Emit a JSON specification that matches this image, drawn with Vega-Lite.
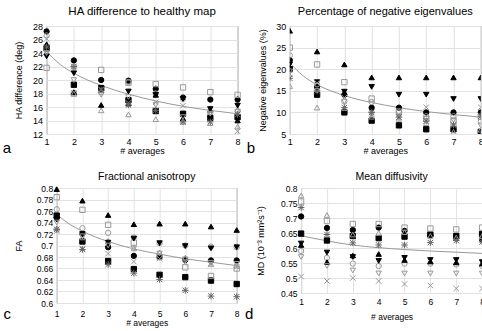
{
 "$schema": "https://vega.github.io/schema/vega-lite/v6.json",
 "padding": {"left": 2, "top": 5, "right": 0, "bottom": 0},
 "background": "white",
 "config": {
  "font": "Liberation Sans",
  "view": {"stroke": "#888", "strokeWidth": 1},
  "axis": {"grid": true, "gridColor": "#e2e2e2", "domain": false, "ticks": false, "labelFontSize": 9, "titleFontSize": 9, "titleFontWeight": "normal", "labelColor": "#000", "titleColor": "#000", "labelPadding": 4, "titlePadding": 5, "labelFlush": false, "labelOverlap": false, "tickCount": 20},
  "title": {"fontWeight": "normal", "color": "#000"}
 },
 "datasets": {
  "a": [
   {"s":"fc","x":1,"v":27.2},{"s":"fc","x":2,"v":22.9},{"s":"fc","x":3,"v":20.0},{"s":"fc","x":4,"v":19.9},{"s":"fc","x":5,"v":18.7},{"s":"fc","x":6,"v":17.4},{"s":"fc","x":7,"v":17.1},{"s":"fc","x":8,"v":17.1},
   {"s":"oc","x":1,"v":26.6},{"s":"oc","x":2,"v":22.0},{"s":"oc","x":3,"v":18.2},{"s":"oc","x":4,"v":19.7},{"s":"oc","x":5,"v":18.0},{"s":"oc","x":6,"v":17.2},{"s":"oc","x":7,"v":15.1},{"s":"oc","x":8,"v":15.4},
   {"s":"fs","x":1,"v":24.7},{"s":"fs","x":2,"v":19.3},{"s":"fs","x":3,"v":18.8},{"s":"fs","x":4,"v":17.0},{"s":"fs","x":5,"v":15.4},{"s":"fs","x":6,"v":15.0},{"s":"fs","x":7,"v":14.4},{"s":"fs","x":8,"v":14.5},
   {"s":"os","x":1,"v":21.8},{"s":"os","x":2,"v":18.0},{"s":"os","x":3,"v":21.5},{"s":"os","x":4,"v":19.6},{"s":"os","x":5,"v":19.4},{"s":"os","x":6,"v":18.9},{"s":"os","x":7,"v":18.2},{"s":"os","x":8,"v":17.8},
   {"s":"fu","x":1,"v":25.3},{"s":"fu","x":2,"v":18.2},{"s":"fu","x":3,"v":16.3},{"s":"fu","x":4,"v":16.5},{"s":"fu","x":5,"v":17.8},{"s":"fu","x":6,"v":14.3},{"s":"fu","x":7,"v":15.6},{"s":"fu","x":8,"v":14.0},
   {"s":"ou","x":1,"v":24.1},{"s":"ou","x":2,"v":18.0},{"s":"ou","x":3,"v":15.5},{"s":"ou","x":4,"v":14.9},{"s":"ou","x":5,"v":14.2},{"s":"ou","x":6,"v":13.8},{"s":"ou","x":7,"v":13.6},{"s":"ou","x":8,"v":13.1},
   {"s":"fd","x":1,"v":23.5},{"s":"fd","x":2,"v":21.0},{"s":"fd","x":3,"v":18.5},{"s":"fd","x":4,"v":18.3},{"s":"fd","x":5,"v":17.8},{"s":"fd","x":6,"v":17.2},{"s":"fd","x":7,"v":15.7},{"s":"fd","x":8,"v":16.2},
   {"s":"od","x":1,"v":24.0},{"s":"od","x":2,"v":20.0},{"s":"od","x":3,"v":17.8},{"s":"od","x":4,"v":17.5},{"s":"od","x":5,"v":16.3},{"s":"od","x":6,"v":14.5},{"s":"od","x":7,"v":15.0},{"s":"od","x":8,"v":15.3},
   {"s":"x","x":1,"v":26.1},{"s":"x","x":2,"v":21.8},{"s":"x","x":3,"v":18.6},{"s":"x","x":4,"v":16.6},{"s":"x","x":5,"v":16.7},{"s":"x","x":6,"v":16.2},{"s":"x","x":7,"v":15.2},{"s":"x","x":8,"v":12.4},
   {"s":"st","x":1,"v":24.9},{"s":"st","x":2,"v":22.0},{"s":"st","x":3,"v":18.5},{"s":"st","x":4,"v":16.3},{"s":"st","x":5,"v":15.5},{"s":"st","x":6,"v":13.8},{"s":"st","x":7,"v":13.8},{"s":"st","x":8,"v":14.9}
  ],
  "fa": [
   {"x":1,"v":24.2},{"x":1.5,"v":22.3},{"x":2,"v":21.0},{"x":2.5,"v":20.0},{"x":3,"v":19.2},{"x":3.5,"v":18.5},{"x":4,"v":17.9},{"x":5,"v":16.9},{"x":6,"v":16.1},{"x":7,"v":15.5},{"x":8,"v":15.0}
  ],
  "b": [
   {"s":"fc","x":1,"v":22.1},{"s":"fc","x":2,"v":15.9},{"s":"fc","x":3,"v":14.1},{"s":"fc","x":4,"v":11.1},{"s":"fc","x":5,"v":11.1},{"s":"fc","x":6,"v":10.0},{"s":"fc","x":7,"v":10.0},{"s":"fc","x":8,"v":10.0},
   {"s":"oc","x":1,"v":23.2},{"s":"oc","x":2,"v":16.5},{"s":"oc","x":3,"v":12.5},{"s":"oc","x":4,"v":12.4},{"s":"oc","x":5,"v":10.0},{"s":"oc","x":6,"v":9.1},{"s":"oc","x":7,"v":9.1},{"s":"oc","x":8,"v":7.9},
   {"s":"fs","x":1,"v":20.0},{"s":"fs","x":2,"v":14.1},{"s":"fs","x":3,"v":10.0},{"s":"fs","x":4,"v":8.1},{"s":"fs","x":5,"v":7.0},{"s":"fs","x":6,"v":6.1},{"s":"fs","x":7,"v":6.1},{"s":"fs","x":8,"v":5.5},
   {"s":"os","x":1,"v":25.0},{"s":"os","x":2,"v":21.1},{"s":"os","x":3,"v":17.0},{"s":"os","x":4,"v":13.2},{"s":"os","x":5,"v":10.2},{"s":"os","x":6,"v":8.5},{"s":"os","x":7,"v":8.0},{"s":"os","x":8,"v":9.0},
   {"s":"fu","x":1,"v":28.9},{"s":"fu","x":2,"v":24.1},{"s":"fu","x":3,"v":21.1},{"s":"fu","x":4,"v":18.1},{"s":"fu","x":5,"v":18.1},{"s":"fu","x":6,"v":18.1},{"s":"fu","x":7,"v":18.1},{"s":"fu","x":8,"v":18.1},
   {"s":"ou","x":1,"v":16.1},{"s":"ou","x":2,"v":11.1},{"s":"ou","x":3,"v":11.0},{"s":"ou","x":4,"v":9.0},{"s":"ou","x":5,"v":8.5},{"s":"ou","x":6,"v":7.5},{"s":"ou","x":7,"v":5.5},{"s":"ou","x":8,"v":6.0},
   {"s":"fd","x":1,"v":21.1},{"s":"fd","x":2,"v":17.0},{"s":"fd","x":3,"v":14.8},{"s":"fd","x":4,"v":15.9},{"s":"fd","x":5,"v":14.1},{"s":"fd","x":6,"v":14.1},{"s":"fd","x":7,"v":13.1},{"s":"fd","x":8,"v":13.1},
   {"s":"od","x":1,"v":19.5},{"s":"od","x":2,"v":15.0},{"s":"od","x":3,"v":12.5},{"s":"od","x":4,"v":9.5},{"s":"od","x":5,"v":9.0},{"s":"od","x":6,"v":8.5},{"s":"od","x":7,"v":8.2},{"s":"od","x":8,"v":7.0},
   {"s":"x","x":1,"v":18.9},{"s":"x","x":2,"v":16.8},{"s":"x","x":3,"v":13.4},{"s":"x","x":4,"v":9.6},{"s":"x","x":5,"v":9.5},{"s":"x","x":6,"v":11.2},{"s":"x","x":7,"v":7.1},{"s":"x","x":8,"v":11.2},
   {"s":"st","x":1,"v":17.9},{"s":"st","x":2,"v":15.0},{"s":"st","x":3,"v":11.1},{"s":"st","x":4,"v":10.0},{"s":"st","x":5,"v":8.9},{"s":"st","x":6,"v":8.0},{"s":"st","x":7,"v":7.1},{"s":"st","x":8,"v":9.1}
  ],
  "fb": [
   {"x":1,"v":21.5},{"x":1.5,"v":18.4},{"x":2,"v":16.4},{"x":2.5,"v":15.0},{"x":3,"v":13.9},{"x":3.5,"v":13.0},{"x":4,"v":12.3},{"x":5,"v":11.1},{"x":6,"v":10.2},{"x":7,"v":9.5},{"x":8,"v":8.9}
  ],
  "c": [
   {"s":"fc","x":1,"v":0.748},{"s":"fc","x":2,"v":0.720},{"s":"fc","x":3,"v":0.697},{"s":"fc","x":4,"v":0.682},{"s":"fc","x":5,"v":0.680},{"s":"fc","x":6,"v":0.675},{"s":"fc","x":7,"v":0.674},{"s":"fc","x":8,"v":0.674},
   {"s":"oc","x":1,"v":0.763},{"s":"oc","x":2,"v":0.730},{"s":"oc","x":3,"v":0.722},{"s":"oc","x":4,"v":0.714},{"s":"oc","x":5,"v":0.704},{"s":"oc","x":6,"v":0.700},{"s":"oc","x":7,"v":0.698},{"s":"oc","x":8,"v":0.697},
   {"s":"fs","x":1,"v":0.752},{"s":"fs","x":2,"v":0.707},{"s":"fs","x":3,"v":0.673},{"s":"fs","x":4,"v":0.659},{"s":"fs","x":5,"v":0.649},{"s":"fs","x":6,"v":0.645},{"s":"fs","x":7,"v":0.639},{"s":"fs","x":8,"v":0.633},
   {"s":"os","x":1,"v":0.784},{"s":"os","x":2,"v":0.762},{"s":"os","x":3,"v":0.736},{"s":"os","x":4,"v":0.705},{"s":"os","x":5,"v":0.680},{"s":"os","x":6,"v":0.662},{"s":"os","x":7,"v":0.647},{"s":"os","x":8,"v":0.660},
   {"s":"fu","x":1,"v":0.798},{"s":"fu","x":2,"v":0.778},{"s":"fu","x":3,"v":0.753},{"s":"fu","x":4,"v":0.737},{"s":"fu","x":5,"v":0.738},{"s":"fu","x":6,"v":0.738},{"s":"fu","x":7,"v":0.733},{"s":"fu","x":8,"v":0.727},
   {"s":"ou","x":1,"v":0.730},{"s":"ou","x":2,"v":0.714},{"s":"ou","x":3,"v":0.708},{"s":"ou","x":4,"v":0.695},{"s":"ou","x":5,"v":0.688},{"s":"ou","x":6,"v":0.679},{"s":"ou","x":7,"v":0.668},{"s":"ou","x":8,"v":0.665},
   {"s":"fd","x":1,"v":0.745},{"s":"fd","x":2,"v":0.720},{"s":"fd","x":3,"v":0.705},{"s":"fd","x":4,"v":0.712},{"s":"fd","x":5,"v":0.704},{"s":"fd","x":6,"v":0.699},{"s":"fd","x":7,"v":0.695},{"s":"fd","x":8,"v":0.697},
   {"s":"od","x":1,"v":0.740},{"s":"od","x":2,"v":0.716},{"s":"od","x":3,"v":0.700},{"s":"od","x":4,"v":0.695},{"s":"od","x":5,"v":0.686},{"s":"od","x":6,"v":0.676},{"s":"od","x":7,"v":0.670},{"s":"od","x":8,"v":0.668},
   {"s":"x","x":1,"v":0.725},{"s":"x","x":2,"v":0.695},{"s":"x","x":3,"v":0.686},{"s":"x","x":4,"v":0.672},{"s":"x","x":5,"v":0.677},{"s":"x","x":6,"v":0.670},{"s":"x","x":7,"v":0.667},{"s":"x","x":8,"v":0.663},
   {"s":"st","x":1,"v":0.728},{"s":"st","x":2,"v":0.693},{"s":"st","x":3,"v":0.667},{"s":"st","x":4,"v":0.652},{"s":"st","x":5,"v":0.641},{"s":"st","x":6,"v":0.622},{"s":"st","x":7,"v":0.612},{"s":"st","x":8,"v":0.611}
  ],
  "fc": [
   {"x":1,"v":0.754},{"x":1.5,"v":0.737},{"x":2,"v":0.725},{"x":2.5,"v":0.715},{"x":3,"v":0.707},{"x":3.5,"v":0.700},{"x":4,"v":0.694},{"x":5,"v":0.685},{"x":6,"v":0.677},{"x":7,"v":0.671},{"x":8,"v":0.665}
  ],
  "d": [
   {"s":"fc","x":1,"v":0.705},{"s":"fc","x":2,"v":0.667},{"s":"fc","x":3,"v":0.660},{"s":"fc","x":4,"v":0.668},{"s":"fc","x":5,"v":0.657},{"s":"fc","x":6,"v":0.643},{"s":"fc","x":7,"v":0.632},{"s":"fc","x":8,"v":0.628},
   {"s":"oc","x":1,"v":0.590},{"s":"oc","x":2,"v":0.567},{"s":"oc","x":3,"v":0.548},{"s":"oc","x":4,"v":0.540},{"s":"oc","x":5,"v":0.548},{"s":"oc","x":6,"v":0.548},{"s":"oc","x":7,"v":0.545},{"s":"oc","x":8,"v":0.540},
   {"s":"fs","x":1,"v":0.648},{"s":"fs","x":2,"v":0.625},{"s":"fs","x":3,"v":0.640},{"s":"fs","x":4,"v":0.633},{"s":"fs","x":5,"v":0.638},{"s":"fs","x":6,"v":0.645},{"s":"fs","x":7,"v":0.640},{"s":"fs","x":8,"v":0.647},
   {"s":"os","x":1,"v":0.755},{"s":"os","x":2,"v":0.690},{"s":"os","x":3,"v":0.680},{"s":"os","x":4,"v":0.680},{"s":"os","x":5,"v":0.668},{"s":"os","x":6,"v":0.665},{"s":"os","x":7,"v":0.662},{"s":"os","x":8,"v":0.668},
   {"s":"fu","x":1,"v":0.610},{"s":"fu","x":2,"v":0.553},{"s":"fu","x":3,"v":0.575},{"s":"fu","x":4,"v":0.580},{"s":"fu","x":5,"v":0.560},{"s":"fu","x":6,"v":0.555},{"s":"fu","x":7,"v":0.552},{"s":"fu","x":8,"v":0.548},
   {"s":"ou","x":1,"v":0.775},{"s":"ou","x":2,"v":0.710},{"s":"ou","x":3,"v":0.645},{"s":"ou","x":4,"v":0.650},{"s":"ou","x":5,"v":0.653},{"s":"ou","x":6,"v":0.640},{"s":"ou","x":7,"v":0.635},{"s":"ou","x":8,"v":0.640},
   {"s":"fd","x":1,"v":0.615},{"s":"fd","x":2,"v":0.585},{"s":"fd","x":3,"v":0.570},{"s":"fd","x":4,"v":0.557},{"s":"fd","x":5,"v":0.567},{"s":"fd","x":6,"v":0.560},{"s":"fd","x":7,"v":0.560},{"s":"fd","x":8,"v":0.553},
   {"s":"od","x":1,"v":0.570},{"s":"od","x":2,"v":0.540},{"s":"od","x":3,"v":0.525},{"s":"od","x":4,"v":0.515},{"s":"od","x":5,"v":0.515},{"s":"od","x":6,"v":0.515},{"s":"od","x":7,"v":0.515},{"s":"od","x":8,"v":0.515},
   {"s":"x","x":1,"v":0.505},{"s":"x","x":2,"v":0.490},{"s":"x","x":3,"v":0.500},{"s":"x","x":4,"v":0.490},{"s":"x","x":5,"v":0.480},{"s":"x","x":6,"v":0.475},{"s":"x","x":7,"v":0.465},{"s":"x","x":8,"v":0.465},
   {"s":"st","x":1,"v":0.735},{"s":"st","x":2,"v":0.645},{"s":"st","x":3,"v":0.617},{"s":"st","x":4,"v":0.610},{"s":"st","x":5,"v":0.610},{"s":"st","x":6,"v":0.618},{"s":"st","x":7,"v":0.625},{"s":"st","x":8,"v":0.620}
  ],
  "fd": [
   {"x":1,"v":0.641},{"x":1.5,"v":0.632},{"x":2,"v":0.624},{"x":2.5,"v":0.616},{"x":3,"v":0.610},{"x":3.5,"v":0.605},{"x":4,"v":0.601},{"x":5,"v":0.595},{"x":6,"v":0.590},{"x":7,"v":0.586},{"x":8,"v":0.582}
  ]
 },
 "spacing": 15,
 "vconcat": [
  {"hconcat": [
   {"width": 9, "height": 127, "view": {"stroke": null},
    "data": {"values": [{"t": "a"}]},
    "mark": {"type": "text", "align": "right", "baseline": "alphabetic", "fontSize": 15, "color": "#000"},
    "encoding": {"text": {"field": "t", "type": "nominal"},
                 "x": {"datum": 1, "type": "quantitative", "scale": {"domain": [0, 1], "nice": false}, "axis": null},
                 "y": {"datum": 0, "type": "quantitative", "scale": {"domain": [0, 1], "nice": false}, "axis": null}}},
   {"width": 191, "height": 108,
    "title": {"text": "HA difference to healthy map", "fontSize": 11.5, "offset": 5},
    "layer": [
     {"data": {"name": "fa"}, "mark": {"type": "line", "color": "#999", "strokeWidth": 1, "interpolate": "monotone"},
      "encoding": {"x": {"field": "x", "type": "quantitative", "scale": {"domain": [1, 8], "nice": false}, "axis": {"values": [1,2,3,4,5,6,7,8], "tickCount": 20, "format": "d", "title": "# averages", "labelPadding": 3, "titlePadding": 0}},
                   "y": {"field": "v", "type": "quantitative", "scale": {"domain": [12, 28], "nice": false, "zero": false}, "axis": {"values": [12,14,16,18,20,22,24,26,28], "tickCount": 20, "format": "d", "title": "HA difference (deg)", "titlePadding": 9}}}},
     {"data": {"name": "a"}, "mark": {"type": "point", "strokeWidth": 1, "opacity": 1},
      "encoding": {"x": {"field": "x", "type": "quantitative"}, "y": {"field": "v", "type": "quantitative"},
       "shape": {"field": "s", "type": "nominal", "legend": null, "scale": {"domain": ["fc","oc","fs","os","fu","ou","fd","od","x","st"], "range": ["circle","circle","square","square","triangle-up","triangle-up","triangle-down","triangle-down","M-1,-1L1,1M-1,1L1,-1","M-1,-1L1,1M-1,1L1,-1M0,-1.2L0,1.2M-1.2,0L1.2,0"]}},
       "fill": {"field": "s", "type": "nominal", "legend": null, "scale": {"domain": ["fc","oc","fs","os","fu","ou","fd","od","x","st"], "range": ["#000","transparent","#000","transparent","#000","transparent","#000","transparent","transparent","transparent"]}},
       "stroke": {"field": "s", "type": "nominal", "legend": null, "scale": {"domain": ["fc","oc","fs","os","fu","ou","fd","od","x","st"], "range": ["#000","#999","#000","#999","#000","#999","#000","#999","#999","#666"]}},
       "size": {"field": "s", "type": "nominal", "legend": null, "scale": {"domain": ["fc","oc","fs","os","fu","ou","fd","od","x","st"], "range": [28,30,34,45,22,30,22,30,22,28]}}}}
    ]},
   {"width": 9, "height": 127, "view": {"stroke": null},
    "data": {"values": [{"t": "b"}]},
    "mark": {"type": "text", "align": "right", "baseline": "alphabetic", "fontSize": 15, "color": "#000"},
    "encoding": {"text": {"field": "t", "type": "nominal"},
                 "x": {"datum": 1, "type": "quantitative", "scale": {"domain": [0, 1], "nice": false}, "axis": null},
                 "y": {"datum": 0, "type": "quantitative", "scale": {"domain": [0, 1], "nice": false}, "axis": null}}},
   {"width": 191, "height": 108,
    "title": {"text": "Percentage of negative eigenvalues", "fontSize": 11, "offset": 5},
    "layer": [
     {"data": {"name": "fb"}, "mark": {"type": "line", "color": "#999", "strokeWidth": 1, "interpolate": "monotone"},
      "encoding": {"x": {"field": "x", "type": "quantitative", "scale": {"domain": [1, 8], "nice": false}, "axis": {"values": [1,2,3,4,5,6,7,8], "tickCount": 20, "format": "d", "title": "# averages", "labelPadding": 3, "titlePadding": 0}},
                   "y": {"field": "v", "type": "quantitative", "scale": {"domain": [5, 30], "nice": false, "zero": false}, "axis": {"values": [5,10,15,20,25,30], "tickCount": 20, "format": "d", "title": "Negative eigenvalues (%)", "titlePadding": 8}}}},
     {"data": {"name": "b"}, "mark": {"type": "point", "strokeWidth": 1, "opacity": 1, "clip": true},
      "encoding": {"x": {"field": "x", "type": "quantitative"}, "y": {"field": "v", "type": "quantitative"},
       "shape": {"field": "s", "type": "nominal", "legend": null, "scale": {"domain": ["fc","oc","fs","os","fu","ou","fd","od","x","st"], "range": ["circle","circle","square","square","triangle-up","triangle-up","triangle-down","triangle-down","M-1,-1L1,1M-1,1L1,-1","M-1,-1L1,1M-1,1L1,-1M0,-1.2L0,1.2M-1.2,0L1.2,0"]}},
       "fill": {"field": "s", "type": "nominal", "legend": null, "scale": {"domain": ["fc","oc","fs","os","fu","ou","fd","od","x","st"], "range": ["#000","transparent","#000","transparent","#000","transparent","#000","transparent","transparent","transparent"]}},
       "stroke": {"field": "s", "type": "nominal", "legend": null, "scale": {"domain": ["fc","oc","fs","os","fu","ou","fd","od","x","st"], "range": ["#000","#999","#000","#999","#000","#999","#000","#999","#999","#666"]}},
       "size": {"field": "s", "type": "nominal", "legend": null, "scale": {"domain": ["fc","oc","fs","os","fu","ou","fd","od","x","st"], "range": [28,30,34,45,22,30,22,30,22,28]}}}}
    ]}
  ], "spacing": 2.6},
  {"hconcat": [
   {"width": 9, "height": 131, "view": {"stroke": null},
    "data": {"values": [{"t": "c"}]},
    "mark": {"type": "text", "align": "right", "baseline": "alphabetic", "fontSize": 15, "color": "#000"},
    "encoding": {"text": {"field": "t", "type": "nominal"},
                 "x": {"datum": 1, "type": "quantitative", "scale": {"domain": [0, 1], "nice": false}, "axis": null},
                 "y": {"datum": 0, "type": "quantitative", "scale": {"domain": [0, 1], "nice": false}, "axis": null}}},
   {"width": 180, "height": 115,
    "title": {"text": "Fractional anisotropy", "fontSize": 10.5, "offset": 2},
    "layer": [
     {"data": {"name": "fc"}, "mark": {"type": "line", "color": "#999", "strokeWidth": 1, "interpolate": "monotone"},
      "encoding": {"x": {"field": "x", "type": "quantitative", "scale": {"domain": [1, 8], "nice": false}, "axis": {"values": [1,2,3,4,5,6,7,8], "tickCount": 20, "format": "d", "title": "# averages", "labelFontSize": 8.5, "titleFontSize": 8.5, "labelPadding": 6, "titlePadding": 1}},
                   "y": {"field": "v", "type": "quantitative", "scale": {"domain": [0.6, 0.8], "nice": false, "zero": false}, "axis": {"values": [0.6,0.62,0.64,0.66,0.68,0.7,0.72,0.74,0.76,0.78,0.8], "tickCount": 20, "format": "~g", "title": "FA", "titlePadding": 13, "labelFontSize": 8.5}}}},
     {"data": {"name": "c"}, "mark": {"type": "point", "strokeWidth": 1, "opacity": 1},
      "encoding": {"x": {"field": "x", "type": "quantitative"}, "y": {"field": "v", "type": "quantitative"},
       "shape": {"field": "s", "type": "nominal", "legend": null, "scale": {"domain": ["fc","oc","fs","os","fu","ou","fd","od","x","st"], "range": ["circle","circle","square","square","triangle-up","triangle-up","triangle-down","triangle-down","M-1,-1L1,1M-1,1L1,-1","M-1,-1L1,1M-1,1L1,-1M0,-1.2L0,1.2M-1.2,0L1.2,0"]}},
       "fill": {"field": "s", "type": "nominal", "legend": null, "scale": {"domain": ["fc","oc","fs","os","fu","ou","fd","od","x","st"], "range": ["#000","transparent","#000","transparent","#000","transparent","#000","transparent","transparent","transparent"]}},
       "stroke": {"field": "s", "type": "nominal", "legend": null, "scale": {"domain": ["fc","oc","fs","os","fu","ou","fd","od","x","st"], "range": ["#000","#999","#000","#999","#000","#999","#000","#999","#999","#666"]}},
       "size": {"field": "s", "type": "nominal", "legend": null, "scale": {"domain": ["fc","oc","fs","os","fu","ou","fd","od","x","st"], "range": [28,30,34,45,22,30,22,30,22,28]}}}}
    ]},
   {"width": 9, "height": 131, "view": {"stroke": null},
    "data": {"values": [{"t": "d"}]},
    "mark": {"type": "text", "align": "right", "baseline": "alphabetic", "fontSize": 15, "color": "#000"},
    "encoding": {"text": {"field": "t", "type": "nominal"},
                 "x": {"datum": 1, "type": "quantitative", "scale": {"domain": [0, 1], "nice": false}, "axis": null},
                 "y": {"datum": 0, "type": "quantitative", "scale": {"domain": [0, 1], "nice": false}, "axis": null}}},
   {"width": 181, "height": 105,
    "title": {"text": "Mean diffusivity", "fontSize": 10.5, "offset": 2},
    "layer": [
     {"data": {"name": "fd"}, "mark": {"type": "line", "color": "#999", "strokeWidth": 1, "interpolate": "monotone"},
      "encoding": {"x": {"field": "x", "type": "quantitative", "scale": {"domain": [1, 8], "nice": false}, "axis": {"values": [1,2,3,4,5,6,7,8], "tickCount": 20, "format": "d", "title": "# averages", "labelFontSize": 8.5, "titleFontSize": 8.5, "titlePadding": 7}},
                   "y": {"field": "v", "type": "quantitative", "scale": {"domain": [0.45, 0.8], "nice": false, "zero": false}, "axis": {"values": [0.45,0.5,0.55,0.6,0.65,0.7,0.75,0.8], "tickCount": 20, "format": "~g", "title": "MD (10⁻³ mm²s⁻¹)", "titlePadding": 15, "labelFontSize": 8.5}}}},
     {"data": {"name": "d"}, "mark": {"type": "point", "strokeWidth": 1, "opacity": 1},
      "encoding": {"x": {"field": "x", "type": "quantitative"}, "y": {"field": "v", "type": "quantitative"},
       "shape": {"field": "s", "type": "nominal", "legend": null, "scale": {"domain": ["fc","oc","fs","os","fu","ou","fd","od","x","st"], "range": ["circle","circle","square","square","triangle-up","triangle-up","triangle-down","triangle-down","M-1,-1L1,1M-1,1L1,-1","M-1,-1L1,1M-1,1L1,-1M0,-1.2L0,1.2M-1.2,0L1.2,0"]}},
       "fill": {"field": "s", "type": "nominal", "legend": null, "scale": {"domain": ["fc","oc","fs","os","fu","ou","fd","od","x","st"], "range": ["#000","transparent","#000","transparent","#000","transparent","#000","transparent","transparent","transparent"]}},
       "stroke": {"field": "s", "type": "nominal", "legend": null, "scale": {"domain": ["fc","oc","fs","os","fu","ou","fd","od","x","st"], "range": ["#000","#999","#000","#999","#000","#999","#000","#999","#999","#666"]}},
       "size": {"field": "s", "type": "nominal", "legend": null, "scale": {"domain": ["fc","oc","fs","os","fu","ou","fd","od","x","st"], "range": [28,30,34,45,22,30,22,30,22,28]}}}}
    ]}
  ], "spacing": 1.7}
 ]
}
